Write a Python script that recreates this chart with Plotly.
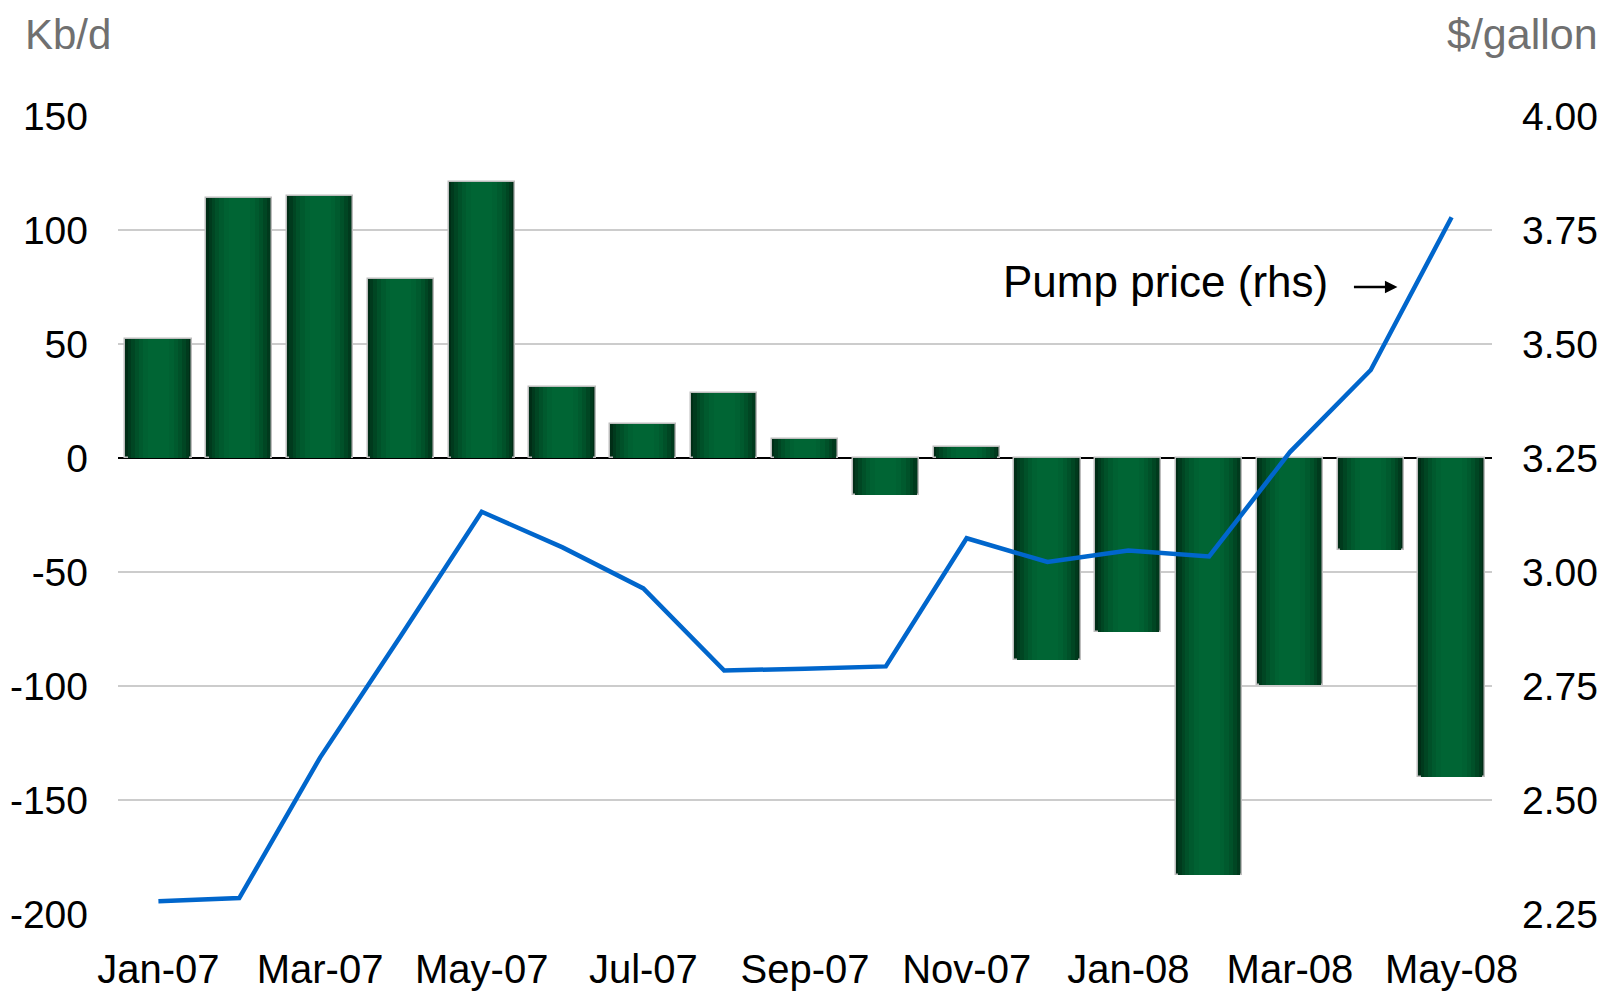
import plotly.graph_objects as go

months = ["Jan-07", "Feb-07", "Mar-07", "Apr-07", "May-07", "Jun-07", "Jul-07", "Aug-07",
          "Sep-07", "Oct-07", "Nov-07", "Dec-07", "Jan-08", "Feb-08", "Mar-08", "Apr-08", "May-08"]
demand_change = [52, 114, 115, 78.5, 121, 31.3, 15, 28.6, 8.4, -16.4, 4.8, -88.8, -76.2,
                 -182.8, -99.6, -40.3, -140]
pump_price = [2.278, 2.285, 2.593, 2.86, 3.132, 3.054, 2.964, 2.784, 2.788, 2.793, 3.074,
              3.022, 3.047, 3.034, 3.263, 3.443, 3.778]
tick_labels = ["Jan-07", "Mar-07", "May-07", "Jul-07", "Sep-07", "Nov-07", "Jan-08", "Mar-08", "May-08"]
left_ticks = [-200, -150, -100, -50, 0, 50, 100, 150]
left_tick_text = ["-200", "-150", "-100", "-50", "0", "50", "100", "150"]
right_ticks = [2.25, 2.5, 2.75, 3.0, 3.25, 3.5, 3.75, 4.0]
right_tick_text = ["2.25", "2.50", "2.75", "3.00", "3.25", "3.50", "3.75", "4.00"]

FONT = "Liberation Sans, Arial, sans-serif"
x = list(range(len(months)))

fig = go.Figure()

# Gradient-like bars: overlay of narrower, lighter bars
layers = [
    (0.82, "#002d16"),
    (0.76, "#003a1d"),
    (0.68, "#004623"),
    (0.59, "#005129"),
    (0.49, "#005a2e"),
    (0.38, "#006132"),
    (0.26, "#006534"),
]
for i, (w, c) in enumerate(layers):
    fig.add_trace(go.Bar(
        x=x, y=demand_change, width=w,
        marker=dict(color=c,
                    line=dict(color="#bdbdbd" if i == 0 else c, width=1.5 if i == 0 else 0)),
        showlegend=False, hoverinfo="skip" if i else None,
    ))

fig.add_trace(go.Scatter(
    x=x, y=pump_price, yaxis="y2", mode="lines",
    line=dict(color="#0066cc", width=4.5), showlegend=False,
))

fig.update_layout(
    width=1608, height=993,
    margin=dict(l=118, r=116, t=116, b=79),
    paper_bgcolor="white", plot_bgcolor="white",
    barmode="overlay", bargap=0,
    font=dict(family=FONT, size=38, color="black"),
    xaxis=dict(range=[-0.5, 16.5], tickmode="array", tickvals=x[::2], ticktext=tick_labels,
               showgrid=False, zeroline=False, showline=False, ticks="", automargin=False,
               ticklabelstandoff=28, tickfont=dict(size=40)),
    yaxis=dict(range=[-200, 150], tickvals=left_ticks, ticktext=left_tick_text,
               showgrid=True, gridcolor="#cccccc", gridwidth=2, automargin=False,
               zeroline=True, zerolinecolor="black", zerolinewidth=2,
               ticks="", ticklabelstandoff=29, tickfont=dict(size=39)),
    yaxis2=dict(range=[2.25, 4.00], overlaying="y", side="right",
                tickvals=right_ticks, ticktext=right_tick_text, automargin=False,
                showgrid=False, zeroline=False, ticks="", ticklabelstandoff=29,
                tickfont=dict(size=39)),
    annotations=[
        dict(text="Kb/d", xref="paper", yref="paper", x=-0.0691, y=1.0, yshift=82,
             xanchor="left", yanchor="middle", showarrow=False,
             font=dict(size=42, color="#707070")),
        dict(text="$/gallon", xref="paper", yref="paper", x=1.0786, y=1.0, yshift=82,
             xanchor="right", yanchor="middle", showarrow=False,
             font=dict(size=43, color="#707070")),
        dict(text="Pump price (rhs)", xref="x", yref="y2", x=14.5, y=3.636,
             xanchor="right", yanchor="middle", showarrow=False,
             font=dict(size=44, color="black")),
        dict(text="", xref="x", yref="y2", x=15.33, y=3.625, ax=-45, ay=0,
             showarrow=True, arrowhead=2, arrowsize=1, arrowwidth=2.5, arrowcolor="black"),
    ],
)

fig.write_html(
    "out.html",
    config={"displayModeBar": False},
    post_script="document.body.style.margin='0';document.body.style.overflow='hidden';",
)
